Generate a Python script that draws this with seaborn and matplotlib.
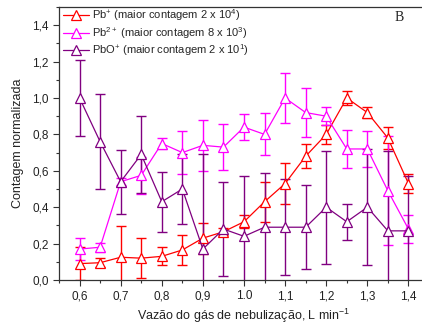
import numpy as np
import pandas as pd
import seaborn as sns
import matplotlib
matplotlib.use("Agg")
import matplotlib.pyplot as plt
from matplotlib.ticker import MultipleLocator, FixedLocator, FixedFormatter

# Gas flow (L/min)
flow = [0.60, 0.65, 0.70, 0.75, 0.80, 0.85, 0.90, 0.95, 1.00, 1.05,
        1.10, 1.15, 1.20, 1.25, 1.30, 1.35, 1.40]

# Pb+ normalised counts and uncertainty
pb1 = [0.09, 0.095, 0.125, 0.12, 0.13, 0.165, 0.23, 0.265, 0.32, 0.43,
       0.53, 0.68, 0.80, 1.00, 0.92, 0.78, 0.53]
pb1_err = [0.09, 0.025, 0.17, 0.11, 0.05, 0.08, 0.085, 0.02, 0.035, 0.11,
           0.115, 0.067, 0.05, 0.04, 0.03, 0.06, 0.05]

# Pb2+ normalised counts and uncertainty
pb2 = [0.17, 0.18, 0.54, 0.575, 0.75, 0.70, 0.74, 0.73, 0.84, 0.80,
       1.00, 0.92, 0.90, 0.72, 0.72, 0.49, 0.28]
pb2_err = [0.06, 0.025, 0.02, 0.10, 0.03, 0.12, 0.14, 0.125, 0.07, 0.115,
           0.14, 0.135, 0.05, 0.105, 0.10, 0.30, 0.075]

# PbO+ normalised counts and uncertainty
pbo = [1.00, 0.76, 0.54, 0.69, 0.43, 0.50, 0.17, 0.28, 0.24, 0.29,
       0.29, 0.29, 0.40, 0.32, 0.40, 0.27, 0.27]
pbo_err = [0.21, 0.26, 0.175, 0.21, 0.165, 0.19, 0.52, 0.26, 0.33, 0.30,
           0.265, 0.23, 0.31, 0.10, 0.32, 0.44, 0.30]

labels = [r"Pb$^{+}$ (maior contagem 2 x 10$^{4}$)",
          r"Pb$^{2+}$ (maior contagem 8 x 10$^{3}$)",
          r"PbO$^{+}$ (maior contagem 2 x 10$^{1}$)"]
colors = ["#FF0000", "#FF00FF", "#800080"]

x_ticks = [0.6, 0.7, 0.8, 0.9, 1.0, 1.1, 1.2, 1.3, 1.4]
x_ticklabels = ["0,6", "0,7", "0,8", "0,9", "1.0", "1,1", "1,2", "1,3", "1,4"]
y_ticks = [0.0, 0.2, 0.4, 0.6, 0.8, 1.0, 1.2, 1.4]
y_ticklabels = ["0,0", "0,2", "0,4", "0,6", "0,8", "1,0", "1,2", "1,4"]

sns.set_style("ticks")
plt.rcParams["font.family"] = ["Liberation Sans", "DejaVu Sans"]
plt.rcParams["mathtext.fontset"] = "custom"
plt.rcParams["mathtext.rm"] = "Liberation Sans"
plt.rcParams["mathtext.it"] = "Liberation Sans"

fig = plt.figure(figsize=(4.22, 3.25), dpi=100)
ax = fig.add_axes([59 / 422, 45 / 325, 370 / 422, 273 / 325])

frames = []
for name, vals in zip(labels, [pb1, pb2, pbo]):
    frames.append(pd.DataFrame({"flow": flow, "valor": vals, "ion": name}))
df = pd.concat(frames, ignore_index=True)

# connecting lines with hollow triangle markers
sns.lineplot(data=df, x="flow", y="valor", hue="ion", palette=colors,
             marker="^", markersize=7.2, linewidth=0.9, ax=ax, legend=False,
             zorder=3)
series_lines = list(ax.lines)
for line, c in zip(series_lines, colors):
    line.set_markerfacecolor("white")
    line.set_markeredgecolor(c)
    line.set_markeredgewidth(0.9)

# error bars
series = [(pb1, pb1_err), (pb2, pb2_err), (pbo, pbo_err)]
for (vals, errs), c in zip(series, colors):
    ax.errorbar(flow, vals, yerr=errs, fmt="none", ecolor=c, elinewidth=1.0,
                capsize=3.5, capthick=1.0, zorder=2)

ax.set_xlim(0.55, 1.45)
ax.set_ylim(0.0, 1.5)
ax.xaxis.set_major_locator(FixedLocator(x_ticks))
ax.xaxis.set_major_formatter(FixedFormatter(x_ticklabels))
ax.xaxis.set_minor_locator(MultipleLocator(0.05))
ax.yaxis.set_major_locator(FixedLocator(y_ticks))
ax.yaxis.set_major_formatter(FixedFormatter(y_ticklabels))
ax.yaxis.set_minor_locator(MultipleLocator(0.1))
ax.tick_params(which="major", direction="out", length=4, width=0.8,
               labelsize=8.5, colors="#333333", labelcolor="#222222")
ax.tick_params(which="minor", direction="out", length=2.5, width=0.8,
               colors="#333333")
for s in ["left", "bottom", "top"]:
    ax.spines[s].set_color("#333333")
    ax.spines[s].set_linewidth(0.9)
ax.spines["right"].set_visible(False)

ax.set_xlabel(r"Vazão do gás de nebulização, L min$^{-1}$", fontsize=9,
              color="#222222", labelpad=3)
ax.set_ylabel("Contagem normalizada", fontsize=9, color="#222222",
              labelpad=6)

handles = [plt.Line2D([], [], color=c, marker="^", markersize=7.2,
                      markerfacecolor="white", markeredgecolor=c,
                      markeredgewidth=0.9, linewidth=0.9) for c in colors]
ax.legend(handles, labels, loc="upper left", frameon=False, fontsize=8,
          handlelength=2.3, handletextpad=0.25, labelspacing=0.15,
          borderaxespad=0.0, bbox_to_anchor=(0.0, 1.015))

ax.text(0.92, 0.963, "B", transform=ax.transAxes, ha="center", va="center",
        fontsize=10, family="Liberation Serif", color="#222222")

fig.savefig("out.png", dpi=100)
